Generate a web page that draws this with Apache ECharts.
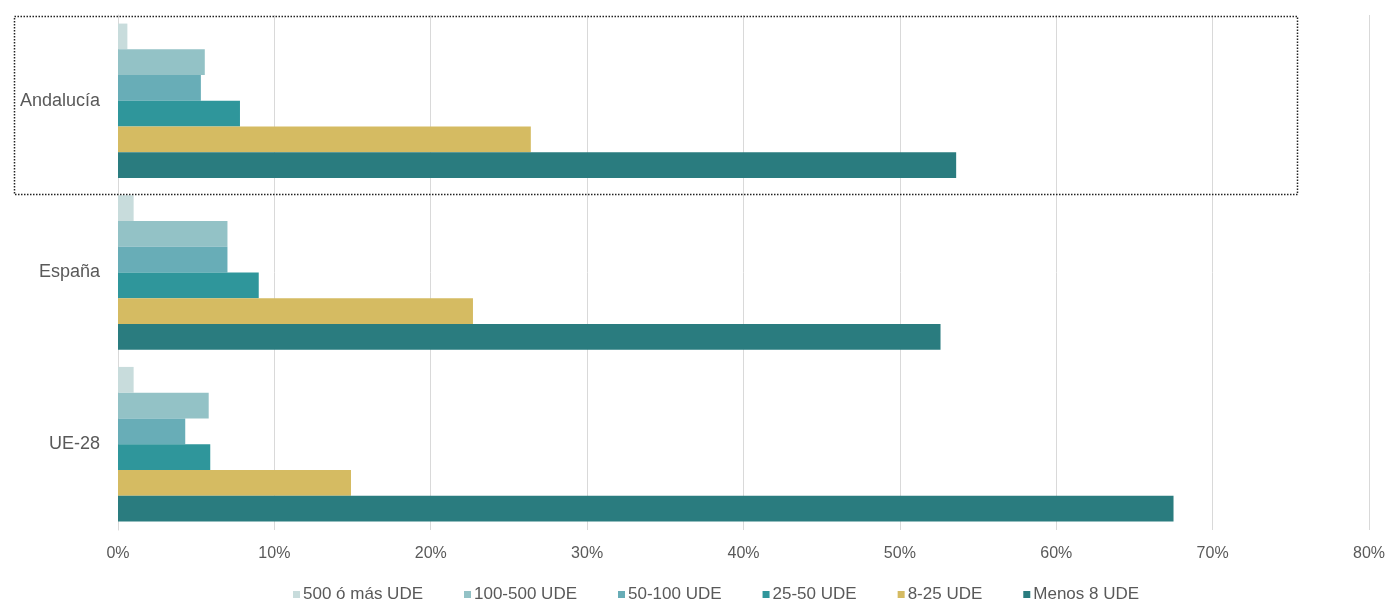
<!DOCTYPE html>
<html><head><meta charset="utf-8">
<script src="https://cdn.jsdelivr.net/npm/echarts@6/dist/echarts.min.js"></script>
<style>html,body{margin:0;padding:0;background:#fff}#c{width:1388px;height:603px}</style>
</head><body><div id="c"></div>
<script>
const categories = ['Andalucía', 'España', 'UE-28'];
const seriesNames = ['500 ó más UDE', '100-500 UDE', '50-100 UDE', '25-50 UDE', '8-25 UDE', 'Menos 8 UDE'];
const v500 = [0.6, 1.0, 1.0];
const v100 = [5.55, 7.0, 5.8];
const v50 = [5.3, 7.0, 4.3];
const v25 = [7.8, 9.0, 5.9];
const v8 = [26.4, 22.7, 14.9];
const vMenos = [53.6, 52.6, 67.5];
const xTicks = [0, 10, 20, 30, 40, 50, 60, 70, 80];
const colors = ['#c8dcdc', '#93c2c6', '#68adb7', '#2f969b', '#d5bb62', '#2a7c7f'];

const FONT = 'Liberation Sans, Arial, sans-serif';
const allValues = [v500, v100, v50, v25, v8, vMenos];
const chart = echarts.init(document.getElementById('c'));
chart.setOption({
  animation: false,
  grid: { left: 118, right: 16, top: 15, bottom: 73, containLabel: false },
  legend: {
    top: 581, left: 288, itemWidth: 7, itemHeight: 7, itemGap: 41,
    icon: 'rect',
    textStyle: { color: '#595959', fontSize: 17, fontFamily: FONT, padding: [0, 0, 0, -2] },
    data: seriesNames
  },
  xAxis: {
    type: 'value', min: xTicks[0], max: xTicks[xTicks.length - 1], interval: 10,
    axisLabel: { formatter: '{value}%', color: '#595959', fontSize: 16, margin: 16, fontFamily: FONT },
    splitLine: { lineStyle: { color: '#d9d9d9', width: 1 } },
    axisLine: { show: false }, axisTick: { show: false }
  },
  yAxis: {
    type: 'category', data: categories, inverse: true,
    axisLabel: { color: '#595959', fontSize: 18, margin: 18, fontFamily: FONT },
    axisLine: { show: true, lineStyle: { color: '#d9d9d9' } },
    axisTick: { show: false }
  },
  graphic: [{
    type: 'rect', left: 12, top: 14, z: 100,
    shape: { width: 1283, height: 178 },
    style: { fill: 'none', stroke: '#222', lineWidth: 1.5, lineDash: [1.5, 1.5] }
  }],
  series: seriesNames.map((n, i) => ({
    name: n, type: 'bar', data: allValues[i],
    barGap: '0%', barCategoryGap: '10%',
    itemStyle: { color: colors[i] }
  }))
});
</script></body></html>
